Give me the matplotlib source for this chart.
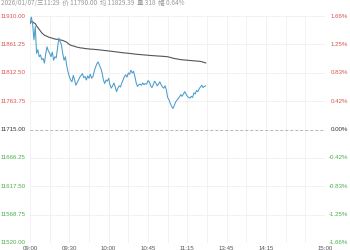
import matplotlib
matplotlib.use("Agg")
import matplotlib.pyplot as plt
from matplotlib.transforms import blended_transform_factory

# ---- data ----
base_price = 11715.0
y_levels = [11520.00, 11568.75, 11617.50, 11666.25, 11715.00, 11763.75, 11812.50, 11861.25, 11910.00]
pct_labels = ["-1.66%", "-1.25%", "-0.83%", "-0.42%", "0.00%", "0.42%", "0.83%", "1.25%", "1.66%"]
x_tick_minutes = [0, 30, 60, 90, 120, 150, 180, 225]
x_tick_labels = ["09:00", "09:30", "10:00", "10:45", "11:15", "13:45", "14:15", "15:00"]
total_minutes = 225

price = [11897, 11908, 11897, 11869, 11892, 11846, 11852, 11840, 11843, 11835,
         11837, 11829, 11845, 11857, 11850, 11846, 11840, 11848, 11834, 11840,
         11838, 11855, 11872, 11866, 11860, 11845, 11834, 11840, 11825, 11814,
         11806, 11800, 11797, 11808, 11800, 11791, 11796, 11800, 11805, 11808,
         11811, 11804, 11806, 11800, 11807, 11803, 11810, 11803, 11806, 11815,
         11822, 11828, 11831, 11825, 11820, 11812, 11800, 11794, 11800, 11798,
         11803, 11792, 11786, 11790, 11795, 11788, 11780, 11786, 11790, 11788,
         11795, 11800, 11806, 11809, 11805, 11812, 11810, 11817, 11812, 11815,
         11806, 11795, 11789, 11792, 11793, 11791, 11795, 11792, 11794, 11793,
         11799, 11797, 11790, 11787, 11792, 11798, 11795, 11790, 11793, 11797,
         11792, 11788, 11786, 11790, 11783, 11770, 11766, 11760, 11755, 11751,
         11756, 11762, 11765, 11768, 11771, 11775, 11772, 11776, 11780, 11776,
         11772, 11770, 11769, 11772, 11770, 11778, 11776, 11782, 11780, 11785,
         11788, 11791, 11787, 11789, 11790]

avg_price = [11897, 11900, 11900, 11898, 11897, 11893, 11890, 11887, 11884, 11881,
             11879, 11877, 11876, 11875, 11874, 11873, 11872.5, 11872, 11871, 11870.5,
             11870, 11870, 11869.5, 11869, 11868.5, 11868, 11867, 11866, 11865, 11863,
             11861, 11860, 11859, 11858.5, 11858, 11857, 11856.5, 11856, 11855.5, 11855,
             11855, 11854.5, 11854, 11854, 11853.5, 11853.5, 11853, 11853, 11853, 11852.5,
             11852.5, 11852.3, 11852, 11851.8, 11851.5, 11851.2, 11851, 11850.7, 11850.5, 11850.2,
             11850, 11849.7, 11849.4, 11849.1, 11848.8, 11848.5, 11848.2, 11847.9, 11847.6, 11847.3,
             11847, 11846.8, 11846.6, 11846.4, 11846.2, 11846, 11845.7, 11845.4, 11845.1, 11844.8,
             11844.5, 11844.3, 11844.1, 11843.9, 11843.7, 11843.5, 11843.3, 11843.1, 11842.9, 11842.7,
             11842.5, 11842.4, 11842.2, 11842, 11841.9, 11841.7, 11841.5, 11841.4, 11841.2, 11841.1,
             11841, 11840.8, 11840.6, 11840.4, 11840.2, 11840, 11839.4, 11838.8, 11838.2, 11837.6,
             11837, 11836.6, 11836.2, 11835.8, 11835.4, 11835, 11834.8, 11834.6, 11834.4, 11834.2,
             11834, 11833.8, 11833.6, 11833.4, 11833.2, 11833, 11832.8, 11832.6, 11832.4, 11832.2,
             11832, 11831.4, 11830.8, 11830, 11829.39]

header = "2026/01/07/三11:29  价 11790.00  均 11829.39  量 318  幅 0.64%"

# ---- style ----
RED = "#d9534f"
GREEN = "#4cae4c"
DARK = "#333333"
W, H = 350, 250

fig = plt.figure(figsize=(3.5, 2.5), dpi=100)
ax = fig.add_axes([30 / W, 1 - 243 / H, (325 - 30) / W, (243 - 16) / H])

minutes = list(range(len(price)))
ax.plot(minutes, avg_price, color="#555555", lw=0.8, zorder=3)
ax.plot(minutes, price, color="#4a9ccb", lw=0.75, zorder=4)

ax.set_xlim(0, total_minutes)
ax.set_ylim(y_levels[0], y_levels[-1])

for s in ax.spines.values():
    s.set_visible(False)
ax.set_yticks(y_levels)
ax.set_xticks(range(0, total_minutes + 1, 15))
ax.tick_params(length=0, labelleft=False, labelbottom=False)
ax.grid(True, color="#f0f0f0", lw=0.6)
ax.set_axisbelow(True)
ax.axhline(base_price, color="#aaaaaa", lw=0.6, ls=(0, (3, 3)), zorder=2)

font = ["Liberation Sans", "DejaVu Sans"]
fs = 4.4
tr = blended_transform_factory(fig.transFigure, ax.transData)
for v, p in zip(y_levels, pct_labels):
    if v > base_price:
        c = RED
    elif v < base_price:
        c = GREEN
    else:
        c = DARK
    ax.text(1 / W, v, f"{v:.2f}", transform=tr, ha="left", va="center",
            fontsize=fs, color=c, family=font)
    ax.text(348 / W, v, p, transform=tr, ha="right", va="center",
            fontsize=fs, color=c, family=font)

trx = blended_transform_factory(ax.transData, fig.transFigure)
for m, lab in zip(x_tick_minutes, x_tick_labels):
    ha = "center"
    ax.text(m, 1 - 246.5 / H, lab, transform=trx, ha=ha, va="top",
            fontsize=fs, color="#555555", family=font)

fig.text(1 / W, 1 - 3 / H, header, ha="left", va="center", fontsize=4.6,
         color="#999999", family=["Noto Sans CJK SC", "DejaVu Sans"])

fig.savefig("out.png", dpi=100)
